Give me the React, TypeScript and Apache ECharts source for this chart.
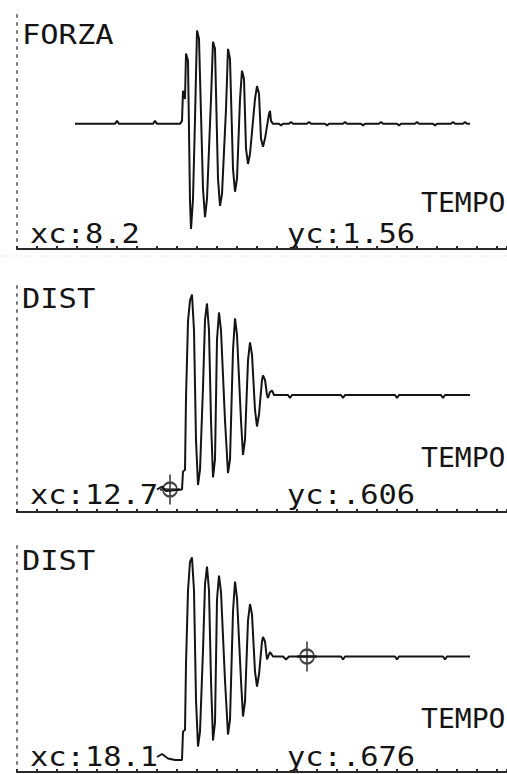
import React, { useEffect, useRef } from "react";
import * as echarts from "echarts";

// ---- data (time in ms-like units) ----
const forzaT = [2.9, 4.9, 5.0, 5.1, 6.8, 6.9, 7.0, 8.15, 8.25, 8.3, 8.4, 8.45, 8.55, 8.65, 8.7, 8.8, 8.9, 9.0, 9.1, 9.3, 9.4, 9.5, 9.7, 9.8, 9.9, 10.05, 10.15, 10.25, 10.45, 10.55, 10.65, 10.8, 10.9, 11.0, 11.15, 11.25, 11.35, 11.45, 11.55, 11.65, 11.9, 12.0, 12.1, 12.2, 12.3, 12.4, 12.6, 12.65, 12.7, 12.8, 13.1, 13.2, 13.3, 13.6, 13.7, 13.8, 14.5, 14.6, 14.7, 15.4, 15.5, 15.6, 16.3, 16.4, 16.5, 17.2, 17.3, 17.4, 18.1, 18.2, 18.3, 19.0, 19.1, 19.2, 19.9, 20.0, 20.1, 20.8, 20.9, 21.0, 21.7, 21.8, 21.9, 22.3, 22.4, 22.5, 22.65];
const forzaV = [0, 0, 0.05, 0, 0, 0.05, 0, 0, 0.05, 0.56, 0.42, 1.19, 1.07, -1.31, -1.78, -1.27, 0.08, 1.58, 1.44, -1.1, -1.58, -1.27, 0.42, 1.39, 1.27, -0.93, -1.39, -1.19, 0.25, 1.27, 1.1, -0.76, -1.15, -0.93, 0.42, 0.9, 0.76, -0.42, -0.68, -0.51, 0.42, 0.64, 0.51, -0.25, -0.39, -0.25, 0.17, 0.22, 0.05, 0, 0, -0.03, 0, 0, 0.03, 0, 0, 0.03, 0, 0, -0.03, 0, 0, 0.03, 0, 0, -0.03, 0, 0, 0.03, 0, 0, -0.03, 0, 0, 0.03, 0, 0, -0.03, 0, 0, 0.03, 0, 0, 0.03, 0, 0];

const dist1T = [7.0, 7.25, 7.45, 8.25, 8.3, 8.4, 8.45, 8.55, 8.65, 8.75, 8.85, 8.95, 9.05, 9.15, 9.3, 9.4, 9.5, 9.6, 9.7, 9.8, 9.9, 10.0, 10.1, 10.2, 10.4, 10.55, 10.65, 10.8, 10.9, 11.0, 11.2, 11.3, 11.4, 11.55, 11.65, 11.75, 11.9, 12.0, 12.1, 12.25, 12.3, 12.4, 12.5, 12.55, 12.65, 12.75, 12.85, 13.55, 13.65, 13.75, 16.2, 16.3, 16.4, 18.9, 19.0, 19.1, 21.2, 21.3, 21.4, 22.65];
const dist1V = [0.15, 0.17, 0.14, 0.15, 0.27, 0.28, 0.76, 1.27, 1.41, 1.45, 1.21, 0.48, 0.18, 0.28, 0.83, 1.28, 1.39, 1.21, 0.61, 0.23, 0.35, 1.15, 1.33, 1.21, 0.61, 0.26, 0.35, 1.08, 1.29, 1.18, 0.61, 0.38, 0.48, 1.01, 1.13, 1.05, 0.68, 0.57, 0.65, 0.88, 0.91, 0.88, 0.78, 0.76, 0.8, 0.81, 0.78, 0.78, 0.76, 0.78, 0.78, 0.76, 0.78, 0.78, 0.76, 0.78, 0.78, 0.76, 0.78, 0.78];

const dist2T = [7.0, 7.25, 7.55, 7.9, 8.25, 8.3, 8.4, 8.45, 8.55, 8.65, 8.75, 8.85, 8.95, 9.05, 9.15, 9.3, 9.4, 9.5, 9.6, 9.7, 9.8, 9.9, 10.0, 10.1, 10.2, 10.4, 10.55, 10.65, 10.8, 10.9, 11.0, 11.2, 11.3, 11.4, 11.55, 11.65, 11.75, 11.9, 12.0, 12.1, 12.25, 12.3, 12.4, 12.5, 12.65, 12.8, 13.3, 13.45, 13.6, 16.2, 16.3, 16.4, 18.9, 19.0, 19.1, 21.3, 21.4, 21.5, 22.65];
const dist2V = [0.1, 0.12, 0.09, 0.08, 0.08, 0.27, 0.28, 0.72, 1.21, 1.4, 1.43, 1.21, 0.48, 0.17, 0.27, 0.81, 1.25, 1.37, 1.21, 0.61, 0.21, 0.33, 1.15, 1.31, 1.2, 0.61, 0.25, 0.35, 1.07, 1.27, 1.16, 0.61, 0.37, 0.47, 1.01, 1.12, 1.05, 0.67, 0.57, 0.65, 0.87, 0.9, 0.87, 0.75, 0.8, 0.77, 0.77, 0.75, 0.77, 0.77, 0.75, 0.77, 0.77, 0.75, 0.77, 0.77, 0.75, 0.77, 0.77];

const cursorT = [null, 7.65, 14.5];
const cursorV = [null, 0.15, 0.77];

const titles = ["FORZA", "DIST", "DIST"];
const xcLabels = ["xc:8.2", "xc:12.7", "xc:18.1"];
const ycLabels = ["yc:1.56", "yc:.606", "yc:.676"];
const xName = "TEMPO";

// ---- layout (positions/styles, not data) ----
const panels = [
  { top: 14, height: 235, min: -2.12, max: 1.86, titleY: 35, tempoY: 203, xcY: 234 },
  { top: 282, height: 230, min: 0, max: 1.533, titleY: 299, tempoY: 458, xcY: 495 },
  { top: 541, height: 231, min: 0, max: 1.54, titleY: 561, tempoY: 719, xcY: 757 },
];

const seriesT = [forzaT, dist1T, dist2T];
const seriesV = [forzaV, dist1V, dist2V];

const INK = "#141414";
const FONT = "26px 'DejaVu Sans Mono', monospace";
const SX = 1.17;

const crossPath =
  "path://M10,0 L10,30 M0,15 L20,15 M17,15 A7,7 0 1,1 3,15 A7,7 0 1,1 17,15";

export default function App() {
  const ref = useRef<HTMLDivElement>(null);
  useEffect(() => {
    if (!ref.current) return;
    const chart = echarts.init(ref.current, null, { renderer: "svg" });

    const grid = panels.map((p) => ({ left: 17, width: 490, top: p.top, height: p.height }));
    const xAxis = panels.map((_, i) => ({
      type: "value",
      gridIndex: i,
      min: 0,
      max: 24.5,
      interval: 1,
      axisLine: { show: true, onZero: false, lineStyle: { color: "#2a2a2a", width: 2 } },
      axisTick: { show: true, inside: true, length: 3, lineStyle: { color: "#2a2a2a", width: 2 } },
      axisLabel: { show: false },
      splitLine: { show: false },
    }));
    const yAxis = panels.map((p, i) => ({
      type: "value",
      gridIndex: i,
      min: p.min,
      max: p.max,
      axisLine: { show: true, onZero: false, lineStyle: { color: "#777", width: 2, type: [2, 6] } },
      axisTick: { show: false },
      axisLabel: { show: false },
      splitLine: { show: false },
    }));

    const series: any[] = panels.map((_, i) => ({
      type: "line",
      xAxisIndex: i,
      yAxisIndex: i,
      showSymbol: false,
      symbol: "none",
      lineStyle: { color: INK, width: 2 },
      data: seriesT[i].map((t, k) => [t, seriesV[i][k]]),
      silent: true,
    }));
    panels.forEach((_, i) => {
      if (cursorT[i] == null) return;
      series.push({
        type: "scatter",
        xAxisIndex: i,
        yAxisIndex: i,
        symbol: crossPath,
        symbolSize: [20, 30],
        itemStyle: { color: "none", borderColor: INK, borderWidth: 2 },
        data: [[cursorT[i], cursorV[i]]],
        silent: true,
      });
    });

    const graphic: any[] = [];
    panels.forEach((p, i) => {
      const txt = (text: string, x: number, y: number, sx: number) => ({
        type: "text",
        x,
        y,
        scaleX: sx,
        silent: true,
        style: { text, font: FONT, fill: INK, verticalAlign: "middle", align: "left" },
      });
      graphic.push(txt(titles[i], 22, p.titleY, SX));
      graphic.push(txt(xName, 421, p.tempoY, 1.08));
      graphic.push(txt(xcLabels[i], 30, p.xcY, SX));
      graphic.push(txt(ycLabels[i], 287, p.xcY, SX));
    });
    graphic.push({
      type: "line",
      silent: true,
      shape: { x1: 0, y1: 256, x2: 507, y2: 256 },
      style: { stroke: "#e2e2e2", lineWidth: 1, lineDash: [2, 3] },
    });

    chart.setOption({
      animation: false,
      backgroundColor: "#ffffff",
      grid,
      xAxis,
      yAxis,
      series,
      graphic,
    });
    return () => chart.dispose();
  }, []);

  return (
    <div
      ref={ref}
      style={{ position: "fixed", left: 0, top: 0, width: 507, height: 774, background: "#fff" }}
    />
  );
}
